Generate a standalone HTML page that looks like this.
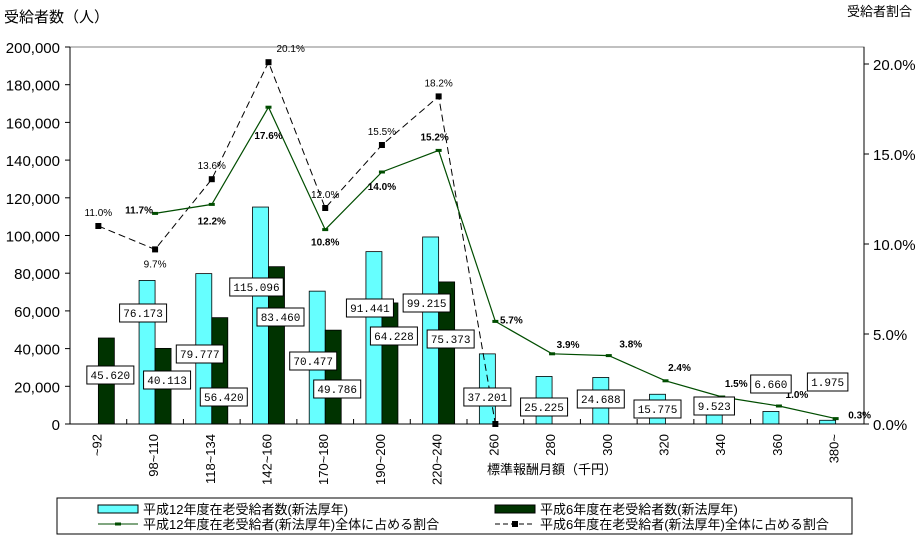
<!DOCTYPE html>
<html><head><meta charset="utf-8"><style>
body{margin:0;background:#fff;width:917px;height:538px;overflow:hidden;font-family:"Liberation Sans","Noto Sans CJK JP",sans-serif}
</style></head><body>
<svg id="chart" width="917" height="538" xmlns="http://www.w3.org/2000/svg" style="font-family:'Liberation Sans','Noto Sans CJK JP',sans-serif"></svg>
<script>
const categories=["~92","98~110","118~134","142~160","170~180","190~200","220~240","260","280","300","320","340","360","380~"];
const h12Counts=[0,76173,79777,115096,70477,91441,99215,37201,25225,24688,15775,9523,6660,1975];
const h6Counts=[45620,40113,56420,83460,49786,64228,75373,0,null,null,null,null,null,null];
const h12Ratio=[null,11.7,12.2,17.6,10.8,14.0,15.2,5.7,3.9,3.8,2.4,1.5,1.0,0.3];
const h6Ratio=[11.0,9.7,13.6,20.1,12.0,15.5,18.2,0.0,null,null,null,null,null,null];
const leftTicks=[0,20000,40000,60000,80000,100000,120000,140000,160000,180000,200000];
const rightTicks=[0,5,10,15,20];

const svg=document.getElementById('chart');
const NS='http://www.w3.org/2000/svg';
const X0=70,X1=864,Y0=424,YT=47;
const cw=(X1-X0)/categories.length;
const cx=i=>X0+cw*(i+0.5);
const yL=v=>Y0-v/200000*(Y0-YT);
const yR=v=>Y0-v*18;
function mk(t,a,p){const e=document.createElementNS(NS,t);for(const k in a)e.setAttribute(k,a[k]);(p||svg).appendChild(e);return e;}
function fmt(v){return v.toLocaleString('en-US').replace(/,/g,',');}

// plot border top/right
const frame=mk('path',{d:`M${X0} ${YT}H${X1}V${Y0}`,stroke:'#808080',fill:'none'});


// bars
categories.forEach((c,i)=>{
  if(h12Counts[i]>0){const b=mk('rect',{x:cx(i)-16,y:yL(h12Counts[i]),width:16,height:Y0-yL(h12Counts[i]),fill:'#66ffff',stroke:'#000','stroke-width':0.8});
  }
  if(h6Counts[i]){const b=mk('rect',{x:cx(i),y:yL(h6Counts[i]),width:16,height:Y0-yL(h6Counts[i]),fill:'#003300',stroke:'#000','stroke-width':0.8});
  }
});

// axes
const ax=mk('path',{d:`M${X0} ${YT}V${Y0}H${X1}V${YT}`,stroke:'#000',fill:'none'});

leftTicks.forEach(v=>{
  mk('line',{x1:X0-5,x2:X0,y1:yL(v),y2:yL(v),stroke:'#000'});
  const t=mk('text',{x:X0-10,y:yL(v)+6,'text-anchor':'end','font-size':15,fill:'#000'});t.textContent=fmt(v);
  
});
rightTicks.forEach(v=>{
  mk('line',{x1:X1,x2:X1+5,y1:yR(v),y2:yR(v),stroke:'#000'});
  const t=mk('text',{x:X1+9,y:yR(v)+6,'font-size':15,fill:'#000'});t.textContent=v.toFixed(1)+'%';
  
});
categories.forEach((c,i)=>{
  mk('line',{x1:X0+cw*(i+1),x2:X0+cw*(i+1),y1:Y0,y2:Y0-5,stroke:'#000'});
  const t=mk('text',{x:0,y:0,'font-size':13,'text-anchor':'end',transform:`translate(${cx(i)-2+5},${Y0+10}) rotate(-90)`,fill:'#000'});t.textContent=c;
  
});

// lines
function line(arr,attrs,name){let d='';arr.forEach((v,i)=>{if(v==null)return;d+=(d?'L':'M')+cx(i)+' '+yR(v);});
  const p=mk('path',Object.assign({d:d,fill:'none'},attrs));}
line(h6Ratio,{stroke:'#000','stroke-dasharray':'7,4','stroke-width':1},'line-h6-ratio');
line(h12Ratio,{stroke:'#004d00','stroke-width':1.2},'line-h12-ratio');
h6Ratio.forEach((v,i)=>{if(v==null)return;const m=mk('rect',{x:cx(i)-3,y:yR(v)-3,width:6,height:6,fill:'#000'});
  
  const t=mk('text',{x:cx(i)+(i==3?8:0),y:yR(v)+(i==1?18:-10),'font-size':10,'text-anchor':i==3?'start':'middle',fill:'#000'});
  if(i==7)return t.remove();
  t.textContent=v.toFixed(1)+'%';});
const offs12=[null,[-16,0],[0,20],[0,32],[0,16],[0,18],[-4,-10],[16,2],[16,-6],[22,-8],[14,-10],[14,-10],[18,-8],[24,0]];
h12Ratio.forEach((v,i)=>{if(v==null)return;const m=mk('rect',{x:cx(i)-3,y:yR(v)-1.5,width:6,height:3,fill:'#004d00'});
  
  const t=mk('text',{x:cx(i)+offs12[i][0],y:yR(v)+offs12[i][1],'font-size':10,'font-weight':'bold','text-anchor':'middle',fill:'#000'});
  t.textContent=v.toFixed(1)+'%';});

// value boxes
function box(xc,yc,txt,name){const w=txt.length*6.5+8;const r=mk('rect',{x:xc-w/2,y:yc-9,width:w,height:18,fill:'#fff',stroke:'#000'});
  
  const t=mk('text',{x:xc,y:yc+4,'font-size':11,'text-anchor':'middle','font-family':'Liberation Mono,monospace',fill:'#000'});t.textContent=txt;
  }
const f=v=>v.toLocaleString('en-US').replace(',','.');
const b12y=[0,313,354,287,361,308,303,397,407,399,409,406,384,382];
const b6y=[375,380,397,317,389,336,339];
h12Counts.forEach((v,i)=>{if(v>0)box(cx(i)-12+(i>=7?4:0),b12y[i],f(v),'value-h12-'+i);});
h6Counts.forEach((v,i)=>{if(v)box(cx(i)+12,b6y[i],f(v),'value-h6-'+i);});

// titles
let t=mk('text',{x:4,y:22,'font-size':15,fill:'#000'});t.textContent='受給者数（人）';
t=mk('text',{x:912,y:16,'font-size':13,'text-anchor':'end',fill:'#000'});t.textContent='受給者割合';
t=mk('text',{x:552,y:474,'font-size':13,'text-anchor':'middle',fill:'#000'});t.textContent='標準報酬月額（千円）';

// legend
const lg=mk('g',{});
mk('rect',{x:57,y:498,width:795,height:36,fill:'#fff',stroke:'#000'},lg);
function le(x,y,sym,txt,name){const g=mk('g',{},lg);
  sym(g,x,y);const tt=mk('text',{x:x+45,y:y+5,'font-size':13,fill:'#000'},g);tt.textContent=txt;}
le(98,509,(g,x,y)=>mk('rect',{x:x,y:y-4,width:40,height:8,fill:'#66ffff',stroke:'#000'},g),'平成12年度在老受給者数(新法厚年)','legend-entry-h12-count');
le(495,509,(g,x,y)=>mk('rect',{x:x,y:y-4,width:40,height:8,fill:'#003300',stroke:'#000'},g),'平成6年度在老受給者数(新法厚年)','legend-entry-h6-count');
le(98,524,(g,x,y)=>{mk('line',{x1:x,x2:x+40,y1:y,y2:y,stroke:'#004d00'},g);mk('rect',{x:x+17,y:y-1.5,width:6,height:3,fill:'#004d00'},g);},'平成12年度在老受給者(新法厚年)全体に占める割合','legend-entry-h12-ratio');
le(495,524,(g,x,y)=>{mk('line',{x1:x,x2:x+40,y1:y,y2:y,stroke:'#000','stroke-dasharray':'5,3'},g);mk('rect',{x:x+17,y:y-3,width:6,height:6,fill:'#000'},g);},'平成6年度在老受給者(新法厚年)全体に占める割合','legend-entry-h6-ratio');
</script>
</body></html>
